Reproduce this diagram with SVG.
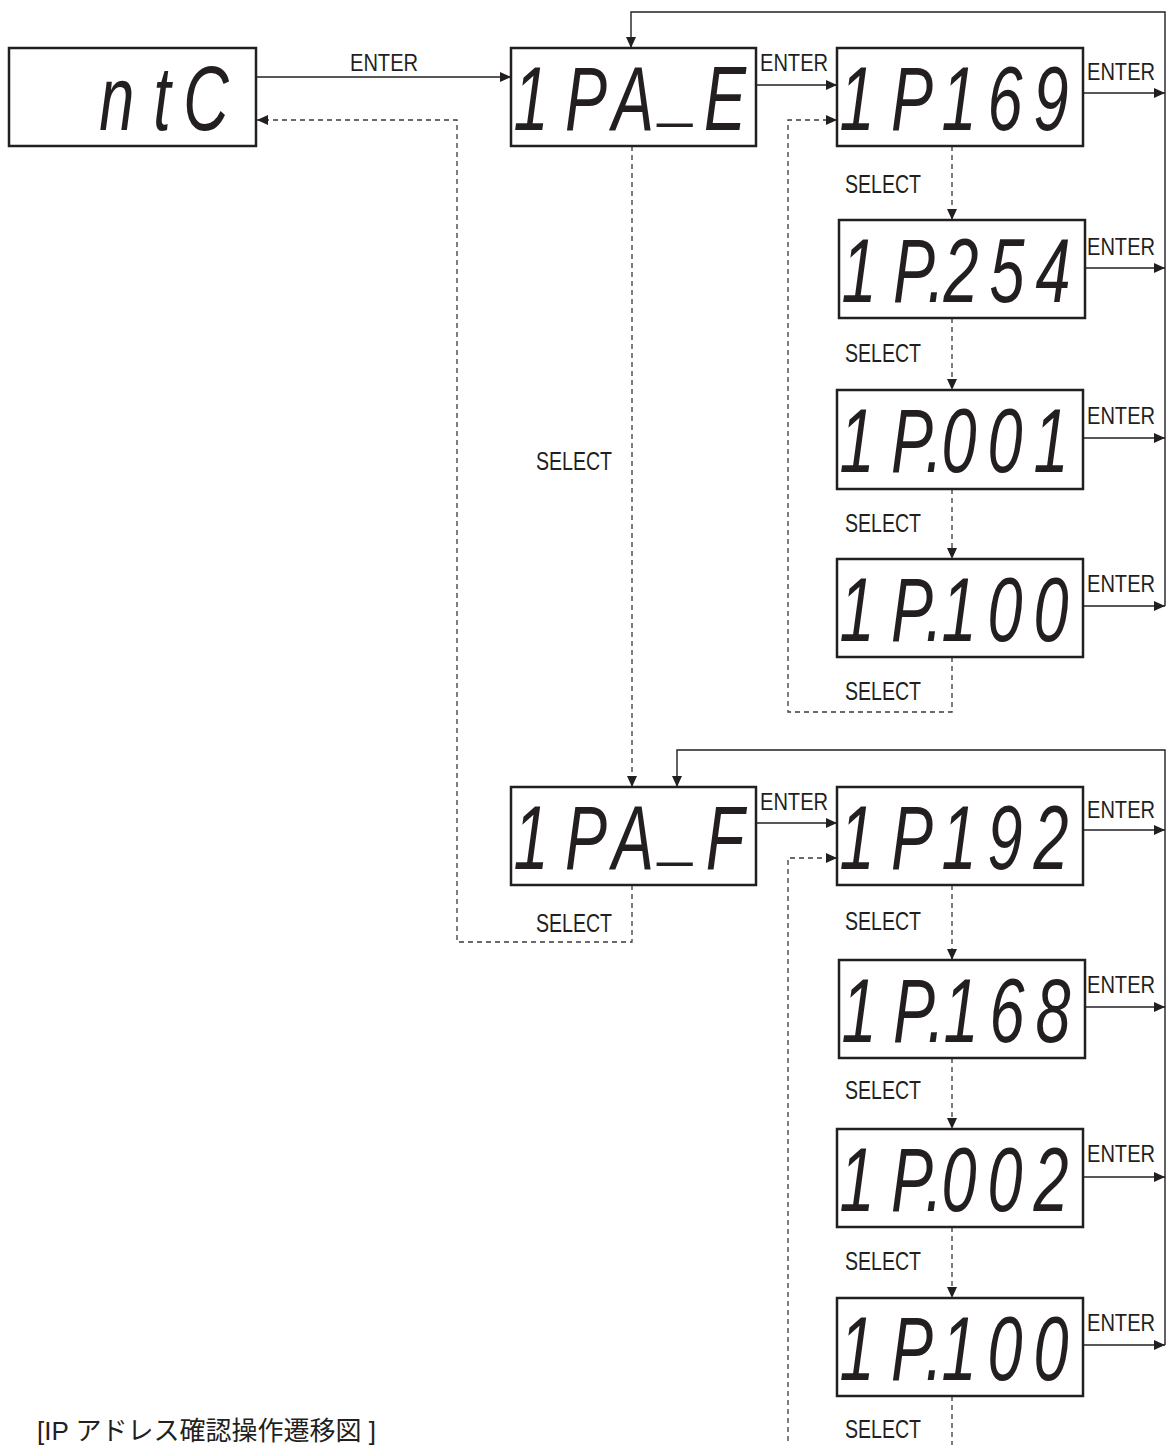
<svg xmlns="http://www.w3.org/2000/svg" width="1167" height="1445" viewBox="0 0 1167 1445">
<style>
.box{fill:#fff;stroke:#231f20;stroke-width:2.5}
.seg{font-family:"Liberation Sans",Arial,sans-serif;font-style:italic;font-size:90px;fill:#231f20;text-anchor:middle}
.lbl{font-family:"Liberation Sans",Arial,sans-serif;font-size:25px;fill:#231f20}
.ent{font-family:"Liberation Sans",Arial,sans-serif;font-size:23px;fill:#231f20}
.solid{stroke:#231f20;stroke-width:1.4;fill:none}
.dash{stroke:#3a3a3a;stroke-width:1.3;stroke-dasharray:5 4;fill:none}
.cap{font-family:"Liberation Sans","Noto Sans CJK JP",sans-serif;font-size:26px;fill:#231f20}
</style>
<defs>
<marker id="ah" markerUnits="userSpaceOnUse" markerWidth="11" markerHeight="10" refX="11" refY="5" orient="auto"><path d="M0,0 L11,5 L0,10 z" fill="#231f20"/></marker>
</defs>
<rect width="1167" height="1445" fill="#fff"/>
<g id="connectors">
<path class="solid" d="M256,77 H511" marker-end="url(#ah)"/>
<path class="solid" d="M756,85 H837" marker-end="url(#ah)"/>
<path class="solid" d="M1083,93 H1165" marker-end="url(#ah)"/>
<path class="solid" d="M1085,268 H1165" marker-end="url(#ah)"/>
<path class="solid" d="M1083,438 H1165" marker-end="url(#ah)"/>
<path class="solid" d="M1083,606 H1165" marker-end="url(#ah)"/>
<path class="solid" d="M1165,606 V12 H631 V48" marker-end="url(#ah)"/>
<path class="solid" d="M756,823 H837" marker-end="url(#ah)"/>
<path class="solid" d="M1083,830 H1165" marker-end="url(#ah)"/>
<path class="solid" d="M1085,1007 H1165" marker-end="url(#ah)"/>
<path class="solid" d="M1083,1177 H1165" marker-end="url(#ah)"/>
<path class="solid" d="M1083,1345 H1165" marker-end="url(#ah)"/>
<path class="solid" d="M1165,1345 V750 H677 V787" marker-end="url(#ah)"/>
<path class="dash" d="M632,146 V787" marker-end="url(#ah)"/>
<path class="dash" d="M632,885 V942 H457 V120 H257" marker-end="url(#ah)"/>
<path class="dash" d="M952,146 V220" marker-end="url(#ah)"/>
<path class="dash" d="M952,318 V390" marker-end="url(#ah)"/>
<path class="dash" d="M952,489 V559" marker-end="url(#ah)"/>
<path class="dash" d="M952,657 V712 H788 V120 H837" marker-end="url(#ah)"/>
<path class="dash" d="M952,885 V960" marker-end="url(#ah)"/>
<path class="dash" d="M952,1058 V1129" marker-end="url(#ah)"/>
<path class="dash" d="M952,1227 V1298" marker-end="url(#ah)"/>
<path class="dash" d="M952,1396 V1450"/>
<path class="dash" d="M788,1450 V858 H837" marker-end="url(#ah)"/>
<text class="ent" x="350" y="71" textLength="68" lengthAdjust="spacingAndGlyphs">ENTER</text>
<text class="ent" x="760" y="71" textLength="68" lengthAdjust="spacingAndGlyphs">ENTER</text>
<text class="ent" x="1087" y="80" textLength="68" lengthAdjust="spacingAndGlyphs">ENTER</text>
<text class="ent" x="1087" y="255" textLength="68" lengthAdjust="spacingAndGlyphs">ENTER</text>
<text class="ent" x="1087" y="424" textLength="68" lengthAdjust="spacingAndGlyphs">ENTER</text>
<text class="ent" x="1087" y="592" textLength="68" lengthAdjust="spacingAndGlyphs">ENTER</text>
<text class="ent" x="760" y="810" textLength="68" lengthAdjust="spacingAndGlyphs">ENTER</text>
<text class="ent" x="1087" y="818" textLength="68" lengthAdjust="spacingAndGlyphs">ENTER</text>
<text class="ent" x="1087" y="993" textLength="68" lengthAdjust="spacingAndGlyphs">ENTER</text>
<text class="ent" x="1087" y="1162" textLength="68" lengthAdjust="spacingAndGlyphs">ENTER</text>
<text class="ent" x="1087" y="1331" textLength="68" lengthAdjust="spacingAndGlyphs">ENTER</text>
<text class="lbl" x="536" y="470" textLength="76" lengthAdjust="spacingAndGlyphs">SELECT</text>
<text class="lbl" x="536" y="932" textLength="76" lengthAdjust="spacingAndGlyphs">SELECT</text>
<text class="lbl" x="845" y="193" textLength="76" lengthAdjust="spacingAndGlyphs">SELECT</text>
<text class="lbl" x="845" y="362" textLength="76" lengthAdjust="spacingAndGlyphs">SELECT</text>
<text class="lbl" x="845" y="532" textLength="76" lengthAdjust="spacingAndGlyphs">SELECT</text>
<text class="lbl" x="845" y="700" textLength="76" lengthAdjust="spacingAndGlyphs">SELECT</text>
<text class="lbl" x="845" y="930" textLength="76" lengthAdjust="spacingAndGlyphs">SELECT</text>
<text class="lbl" x="845" y="1099" textLength="76" lengthAdjust="spacingAndGlyphs">SELECT</text>
<text class="lbl" x="845" y="1270" textLength="76" lengthAdjust="spacingAndGlyphs">SELECT</text>
<text class="lbl" x="845" y="1438" textLength="76" lengthAdjust="spacingAndGlyphs">SELECT</text>
</g>
<g id="node-ntC"><rect class="box" x="9" y="48" width="247" height="98"/>
<text class="seg" transform="translate(9,130) scale(0.7,1)" x="154 218.6 281.4" y="0">ntC</text></g>
<g id="node-1PA_E"><rect class="box" x="511" y="48" width="245" height="98"/>
<text class="seg" transform="translate(511,130) scale(0.7,1)" x="28.6 107.1 174.3 240 305.7" y="0 0 0 -14 0">1PA_E</text></g>
<g id="node-1P169"><rect class="box" x="837" y="48" width="246" height="98"/>
<text class="seg" transform="translate(837,130) scale(0.7,1)" x="28.6 107.1 174.3 240 305.7">1P169</text></g>
<g id="node-1P254"><rect class="box" x="839" y="220" width="246" height="98"/>
<text class="seg" transform="translate(839,302) scale(0.7,1)" x="28.6 107.1 138.6 174.3 240 305.7">1P.254</text></g>
<g id="node-1P001"><rect class="box" x="837" y="390" width="246" height="99"/>
<text class="seg" transform="translate(837,472) scale(0.7,1)" x="28.6 107.1 138.6 174.3 240 305.7">1P.001</text></g>
<g id="node-1P100a"><rect class="box" x="837" y="559" width="246" height="98"/>
<text class="seg" transform="translate(837,641) scale(0.7,1)" x="28.6 107.1 138.6 174.3 240 305.7">1P.100</text></g>
<g id="node-1PA_F"><rect class="box" x="511" y="787" width="245" height="98"/>
<text class="seg" transform="translate(511,869) scale(0.7,1)" x="28.6 107.1 174.3 240 305.7" y="0 0 0 -14 0">1PA_F</text></g>
<g id="node-1P192"><rect class="box" x="837" y="787" width="246" height="98"/>
<text class="seg" transform="translate(837,869) scale(0.7,1)" x="28.6 107.1 174.3 240 305.7">1P192</text></g>
<g id="node-1P168"><rect class="box" x="839" y="960" width="246" height="98"/>
<text class="seg" transform="translate(839,1042) scale(0.7,1)" x="28.6 107.1 138.6 174.3 240 305.7">1P.168</text></g>
<g id="node-1P002"><rect class="box" x="837" y="1129" width="246" height="98"/>
<text class="seg" transform="translate(837,1211) scale(0.7,1)" x="28.6 107.1 138.6 174.3 240 305.7">1P.002</text></g>
<g id="node-1P100b"><rect class="box" x="837" y="1298" width="246" height="98"/>
<text class="seg" transform="translate(837,1380) scale(0.7,1)" x="28.6 107.1 138.6 174.3 240 305.7">1P.100</text></g>
<g id="caption"><text class="cap" x="37" y="1440">[IP アドレス確認操作遷移図 ]</text></g>
</svg>
